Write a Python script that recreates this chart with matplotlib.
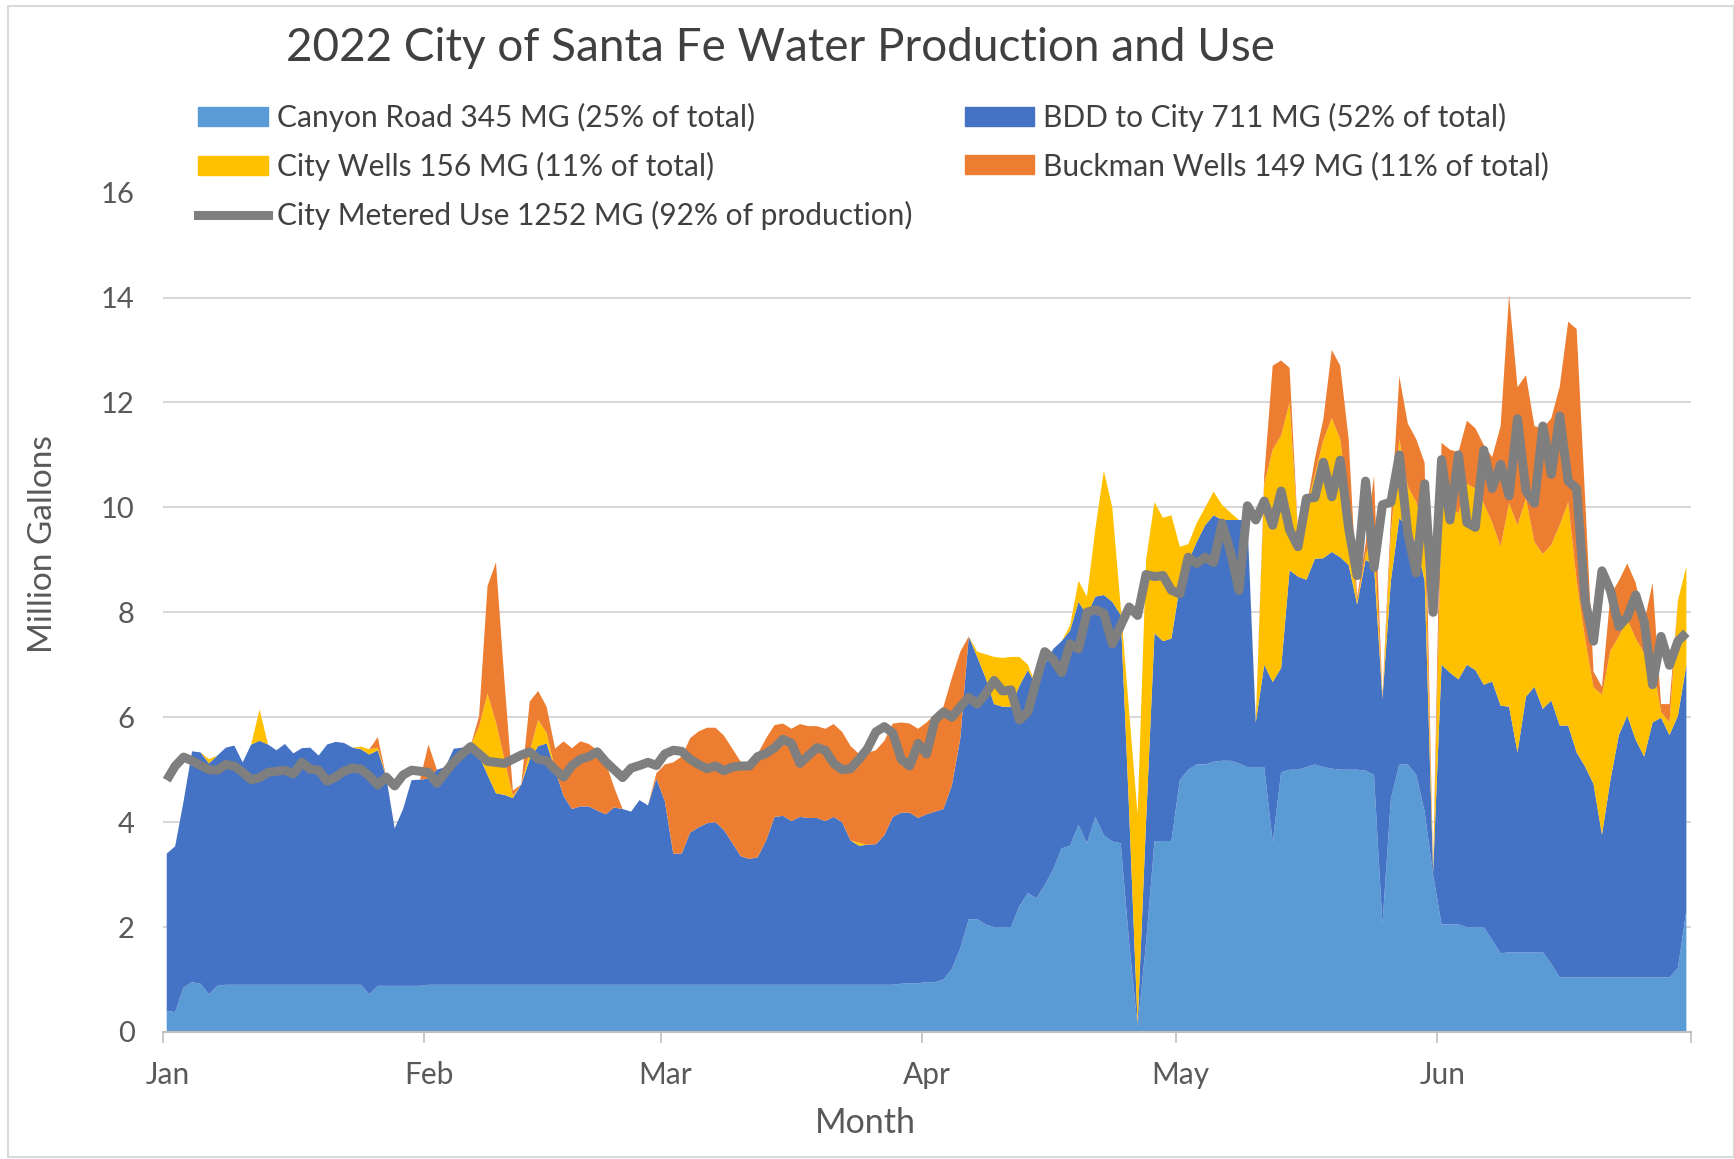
import numpy as np
import matplotlib.pyplot as plt
from matplotlib.patches import Patch, Rectangle
from matplotlib.lines import Line2D
from matplotlib.transforms import ScaledTranslation

plt.rcParams['font.family'] = ['Lato', 'DejaVu Sans']

# daily production / use, 1 Jan - 30 Jun 2022, million gallons
canyon_road = [
    # Jan
    0.40, 0.38, 0.85, 0.95, 0.92, 0.72, 0.88, 0.90, 0.90, 0.90, 0.90, 0.90, 0.90, 0.90, 0.90, 0.90,
    0.90, 0.90, 0.90, 0.90, 0.90, 0.90, 0.90, 0.90, 0.72, 0.88, 0.88, 0.88, 0.88, 0.88, 0.88,
    # Feb
    0.90, 0.90, 0.90, 0.90, 0.90, 0.90, 0.90, 0.90, 0.90, 0.90, 0.90, 0.90, 0.90, 0.90,
    0.90, 0.90, 0.90, 0.90, 0.90, 0.90, 0.90, 0.90, 0.90, 0.90, 0.90, 0.90, 0.90, 0.90,
    # Mar
    0.90, 0.90, 0.90, 0.90, 0.90, 0.90, 0.90, 0.90, 0.90, 0.90, 0.90, 0.90, 0.90, 0.90, 0.90, 0.90,
    0.90, 0.90, 0.90, 0.90, 0.90, 0.90, 0.90, 0.90, 0.90, 0.90, 0.90, 0.90, 0.92, 0.93, 0.93,
    # Apr
    0.95, 0.95, 1.00, 1.20, 1.60, 2.15, 2.15, 2.05, 2.00, 2.00, 2.00, 2.40, 2.65, 2.55, 2.80,
    3.10, 3.50, 3.55, 3.95, 3.60, 4.10, 3.75, 3.63, 3.60, 1.70, 0.10, 1.70, 3.64, 3.64, 3.64,
    # May
    4.80, 5.00, 5.10, 5.10, 5.15, 5.17, 5.17, 5.12, 5.05, 5.05, 5.05, 3.62, 4.95, 5.00, 5.00, 5.05,
    5.10, 5.05, 5.02, 5.00, 5.00, 5.00, 4.98, 4.90, 2.05, 4.45, 5.10, 5.10, 4.90, 4.20, 3.00,
    # Jun
    2.05, 2.05, 2.05, 2.00, 2.00, 2.00, 1.75, 1.50, 1.52, 1.52, 1.52, 1.52, 1.52, 1.30, 1.04,
    1.04, 1.04, 1.04, 1.04, 1.04, 1.04, 1.04, 1.04, 1.04, 1.04, 1.04, 1.04, 1.04, 1.22, 2.32,
]

bdd_to_city = [
    # Jan
    3.00, 3.16, 3.55, 4.40, 4.41, 4.40, 4.39, 4.52, 4.56, 4.24, 4.58, 4.65, 4.58, 4.47, 4.59, 4.41,
    4.51, 4.52, 4.37, 4.58, 4.63, 4.61, 4.52, 4.49, 4.57, 4.49, 3.98, 3.00, 3.37, 3.92, 3.93,
    # Feb
    3.93, 4.10, 4.15, 4.50, 4.52, 4.56, 4.37, 4.00, 3.65, 3.62, 3.56, 3.82, 4.30, 4.55,
    4.60, 4.10, 3.60, 3.35, 3.40, 3.40, 3.32, 3.25, 3.38, 3.35, 3.30, 3.52, 3.42, 3.93,
    # Mar
    3.50, 2.50, 2.50, 2.90, 3.00, 3.08, 3.10, 2.95, 2.70, 2.45, 2.40, 2.43, 2.75, 3.20, 3.22, 3.12,
    3.20, 3.18, 3.18, 3.12, 3.20, 3.10, 2.75, 2.65, 2.67, 2.68, 2.85, 3.20, 3.26, 3.25, 3.15,
    # Apr
    3.20, 3.25, 3.25, 3.50, 4.00, 5.39, 5.00, 4.70, 4.25, 4.20, 4.20, 4.20, 4.25, 4.05, 4.20,
    4.20, 3.95, 4.10, 4.25, 4.35, 4.20, 4.58, 4.57, 4.35, 2.50, 0.05, 2.30, 3.96, 3.81, 3.86,
    # May
    3.70, 3.97, 4.24, 4.56, 4.70, 4.59, 4.59, 4.64, 4.71, 0.85, 1.95, 3.05, 1.99, 3.80, 3.68, 3.57,
    3.92, 3.98, 4.13, 4.05, 3.90, 3.15, 4.02, 4.00, 4.30, 4.15, 4.70, 4.50, 4.40, 4.40, 0.05,
    # Jun
    4.95, 4.80, 4.67, 5.00, 4.90, 4.62, 4.93, 4.72, 4.68, 3.81, 4.87, 5.06, 4.64, 5.02, 4.80,
    4.80, 4.29, 4.02, 3.69, 2.72, 3.76, 4.62, 4.99, 4.53, 4.21, 4.86, 4.95, 4.62, 4.81, 4.68,
]

city_wells = [
    # Jan
    0.00, 0.00, 0.00, 0.00, 0.00, 0.08, 0.00, 0.00, 0.00, 0.00, 0.00, 0.60, 0.00, 0.00, 0.00, 0.00,
    0.00, 0.00, 0.00, 0.00, 0.00, 0.00, 0.00, 0.05, 0.10, 0.05, 0.00, 0.00, 0.00, 0.00, 0.00,
    # Feb
    0.00, 0.00, 0.00, 0.00, 0.00, 0.00, 0.55, 1.55, 1.35, 0.68, 0.04, 0.00, 0.15, 0.50,
    0.20, 0.00, 0.00, 0.00, 0.00, 0.00, 0.00, 0.00, 0.00, 0.00, 0.00, 0.00, 0.00, 0.00,
    # Mar
    0.00, 0.00, 0.00, 0.00, 0.00, 0.00, 0.00, 0.00, 0.00, 0.00, 0.00, 0.00, 0.00, 0.00, 0.00, 0.00,
    0.00, 0.00, 0.00, 0.00, 0.00, 0.00, 0.00, 0.06, 0.00, 0.00, 0.00, 0.00, 0.00, 0.00, 0.00,
    # Apr
    0.00, 0.00, 0.00, 0.00, 0.00, 0.00, 0.10, 0.45, 0.90, 0.93, 0.95, 0.55, 0.10, 0.00, 0.00,
    0.00, 0.00, 0.10, 0.40, 0.35, 1.30, 2.37, 1.80, 0.15, 1.90, 4.00, 5.00, 2.50, 2.35, 2.35,
    # May
    0.75, 0.33, 0.36, 0.34, 0.45, 0.29, 0.14, 0.00, 0.00, 0.03, 3.45, 4.43, 4.43, 3.20, 0.82, 1.38,
    1.61, 2.25, 2.55, 2.25, 1.10, 0.05, 0.10, 0.60, 0.02, 0.90, 1.50, 0.80, 0.80, 1.00, 0.05,
    # Jun
    3.00, 3.14, 3.17, 3.45, 3.46, 3.46, 3.03, 3.03, 3.88, 4.33, 3.78, 2.76, 2.95, 2.97, 3.82,
    4.26, 3.27, 2.44, 1.84, 2.67, 2.47, 1.88, 1.84, 1.93, 1.97, 1.13, 0.11, 0.24, 2.20, 1.87,
]

buckman_wells = [
    # Jan
    0.00, 0.00, 0.00, 0.00, 0.00, 0.00, 0.00, 0.00, 0.00, 0.00, 0.00, 0.00, 0.00, 0.00, 0.00, 0.00,
    0.00, 0.00, 0.00, 0.00, 0.00, 0.00, 0.00, 0.00, 0.00, 0.20, 0.00, 0.00, 0.00, 0.00, 0.00,
    # Feb
    0.65, 0.00, 0.00, 0.00, 0.00, 0.00, 0.20, 2.05, 3.05, 1.50, 0.10, 0.00, 0.95, 0.55,
    0.50, 0.40, 1.04, 1.16, 1.24, 1.19, 1.15, 0.99, 0.38, 0.00, 0.00, 0.00, 0.00, 0.10,
    # Mar
    0.70, 1.74, 1.85, 1.80, 1.83, 1.82, 1.80, 1.80, 1.80, 1.80, 1.77, 1.97, 1.95, 1.75, 1.76, 1.76,
    1.77, 1.75, 1.75, 1.76, 1.77, 1.72, 1.80, 1.69, 1.75, 1.79, 1.80, 1.78, 1.72, 1.70, 1.70,
    # Apr
    1.75, 1.85, 1.95, 2.05, 1.65, 0.00, 0.00, 0.00, 0.00, 0.00, 0.00, 0.00, 0.00, 0.00, 0.00,
    0.00, 0.00, 0.00, 0.00, 0.00, 0.00, 0.00, 0.00, 0.00, 0.00, 0.00, 0.00, 0.00, 0.00, 0.00,
    # May
    0.00, 0.00, 0.00, 0.00, 0.00, 0.00, 0.00, 0.00, 0.00, 0.00, 0.15, 1.60, 1.43, 0.66, 0.00, 0.00,
    0.30, 0.40, 1.30, 1.40, 1.30, 0.10, 0.20, 1.10, 0.03, 0.30, 1.20, 1.20, 1.20, 1.25, 0.00,
    # Jun
    1.23, 1.11, 1.16, 1.20, 1.15, 1.11, 1.25, 2.30, 3.97, 2.63, 2.35, 2.21, 2.39, 2.41, 2.64,
    3.44, 4.80, 2.70, 0.30, 0.15, 1.06, 1.06, 1.06, 1.06, 0.58, 1.53, 0.15, 0.35, 0.00, 0.00,
]

metered_use = [
    # Jan
    4.80, 5.07, 5.24, 5.17, 5.08, 5.00, 4.99, 5.10, 5.07, 4.95, 4.81, 4.85, 4.95, 4.97, 4.99, 4.92,
    5.14, 5.01, 4.99, 4.78, 4.86, 4.97, 5.03, 5.01, 4.88, 4.71, 4.86, 4.69, 4.90, 4.99, 4.97,
    # Feb
    4.95, 4.74, 4.95, 5.15, 5.30, 5.44, 5.30, 5.16, 5.14, 5.12, 5.20, 5.28, 5.34, 5.20,
    5.17, 5.00, 4.86, 5.08, 5.20, 5.25, 5.34, 5.15, 5.00, 4.85, 5.03, 5.08, 5.14, 5.08,
    # Mar
    5.30, 5.37, 5.35, 5.20, 5.10, 5.02, 5.07, 4.98, 5.05, 5.07, 5.07, 5.25, 5.31, 5.42, 5.58, 5.50,
    5.12, 5.27, 5.42, 5.37, 5.12, 5.00, 5.02, 5.20, 5.40, 5.72, 5.82, 5.70, 5.20, 5.07, 5.50,
    # Apr
    5.30, 5.95, 6.10, 6.00, 6.20, 6.38, 6.25, 6.45, 6.70, 6.50, 6.52, 5.95, 6.10, 6.70, 7.25,
    7.10, 6.85, 7.40, 7.30, 8.00, 8.05, 7.98, 7.40, 7.75, 8.10, 7.94, 8.72, 8.68, 8.70, 8.42,
    # May
    8.35, 9.05, 8.93, 9.05, 8.95, 9.70, 9.16, 8.42, 10.03, 9.76, 10.12, 9.66, 10.31, 9.57, 9.25, 10.17,
    10.19, 10.86, 10.20, 10.90, 9.60, 8.70, 10.50, 8.85, 10.05, 10.10, 11.00, 9.50, 8.75, 10.45, 8.00,
    # Jun
    10.91, 9.76, 11.00, 9.71, 9.62, 11.09, 10.36, 10.82, 10.22, 11.69, 10.31, 10.08, 11.55, 10.63, 11.74,
    10.50, 10.36, 8.23, 7.45, 8.79, 8.42, 7.73, 7.91, 8.33, 7.82, 6.62, 7.54, 6.99, 7.45, 7.61,
]

month_names = ['Jan', 'Feb', 'Mar', 'Apr', 'May', 'Jun', '']
month_starts = [0, 31, 59, 90, 120, 151, 181]   # day of year

labels = ['Canyon Road 345 MG (25% of total)', 'BDD to City 711 MG (52% of total)',
          'City Wells 156 MG (11% of total)', 'Buckman Wells 149 MG (11% of total)',
          'City Metered Use 1252 MG (92% of production)']
colors = ['#5B9BD5', '#4472C4', '#FFC000', '#ED7D31']
line_color = '#7F7F7F'

n = len(metered_use)
for s in (canyon_road, bdd_to_city, city_wells, buckman_wells):
    assert len(s) == n, len(s)
days = np.arange(n) + 0.5

W, H = 1734, 1159
fig = plt.figure(figsize=(W / 100, H / 100), dpi=100)
fig.add_artist(Rectangle((8 / W, 2 / H), 1 - 8 / W, 1 - 8 / H, transform=fig.transFigure,
                         fill=False, edgecolor='#D9D9D9', linewidth=1.5))
ax = fig.add_axes([162.5 / W, (H - 1032) / H, (1690.6 - 162.5) / W, (1032 - 192.6) / H])

ax.stackplot(days, canyon_road, bdd_to_city, city_wells, buckman_wells,
             colors=colors, linewidth=0)
ax.plot(days, metered_use, color=line_color, linewidth=6.5, solid_joinstyle='round',
        solid_capstyle='butt')

ax.set_xlim(0, 181)
ax.set_ylim(0, 16)
ax.set_yticks(range(0, 17, 2))
ax.set_xticks(month_starts)
ax.set_xticklabels(month_names)
ax.grid(axis='y', color='#D9D9D9', linewidth=1.5)
ax.get_ygridlines()[-1].set_visible(False)
ax.set_axisbelow(True)
for side in ('top', 'right', 'left'):
    ax.spines[side].set_visible(False)
ax.spines['bottom'].set_color('#BFBFBF')
ax.spines['bottom'].set_linewidth(1.5)
ax.tick_params(axis='y', length=0, pad=20, labelsize=21, labelcolor='#595959')
ax.tick_params(axis='x', length=8, width=1.2, color='#BFBFBF', pad=13, labelsize=21.5,
               labelcolor='#595959')
shift = ScaledTranslation(5 / 100, 0, fig.dpi_scale_trans)
for lab in ax.get_xticklabels():
    lab.set_transform(lab.get_transform() + shift)

ax.set_ylabel('Million Gallons', fontsize=24, color='#595959')
ax.yaxis.set_label_coords((58.5 - 162.5) / (1690.6 - 162.5), (1032 - 544) / (1032 - 192.6))
fig.text(865 / W, 1 - 1123 / H, 'Month', ha='center', va='center', fontsize=24.5, color='#595959')
fig.text(780 / W, 1 - 48 / H, '2022 City of Santa Fe Water Production and Use',
         ha='center', va='center', fontsize=33, color='#404040')

handles = [Patch(color=colors[0]), Patch(color=colors[2]),
           Line2D([], [], color=line_color, linewidth=6.5),
           Patch(color=colors[1]), Patch(color=colors[3])]
order = [0, 2, 4, 1, 3]
fig.legend(handles, [labels[i] for i in order], ncol=2, loc='upper left',
           bbox_to_anchor=(198 / W, 1 - 102.5 / H), frameon=False, fontsize=21.5,
           labelcolor='#404040', handlelength=2.34, handleheight=0.6, handletextpad=0.3,
           columnspacing=1.75, labelspacing=0.67, borderpad=0, borderaxespad=0)

fig.savefig('out.png', dpi=100, facecolor='white')
